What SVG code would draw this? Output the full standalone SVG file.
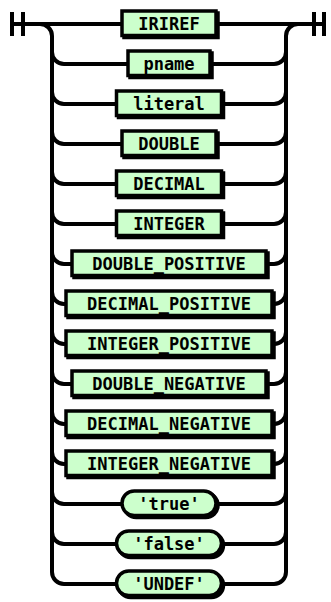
<svg xmlns="http://www.w3.org/2000/svg" width="331" height="602" viewBox="0 0 331 602">
<style>
.line{fill:none;stroke:#000;stroke-width:4}
.sh{fill:#000;stroke:#000;stroke-width:3.5}
.box{fill:#ccffcc;stroke:#000;stroke-width:3.5}
text{font-family:"DejaVu Sans Mono","Liberation Mono",monospace;font-weight:bold;font-size:17px;text-anchor:middle;fill:#000}
</style>
<rect width="331" height="602" fill="#fff"/>
<g id="connectors" class="line">
<path d="M12 12V36M23 12V36M314 12V36M324 12V36"/>
<path d="M12 24H122M216 24H324"/>
<path d="M40 24A12 12 0 0 1 52 36V572"/>
<path d="M286 572V36A12 12 0 0 1 298 24"/>
<path d="M52 52A12 12 0 0 0 64 64H128M210 64H274A12 12 0 0 0 286 52"/>
<path d="M52 92A12 12 0 0 0 64 104H116.5M221.5 104H274A12 12 0 0 0 286 92"/>
<path d="M52 132A12 12 0 0 0 64 144H122M216 144H274A12 12 0 0 0 286 132"/>
<path d="M52 172A12 12 0 0 0 64 184H116.5M221.5 184H274A12 12 0 0 0 286 172"/>
<path d="M52 212A12 12 0 0 0 64 224H116.5M221.5 224H274A12 12 0 0 0 286 212"/>
<path d="M52 252A12 12 0 0 0 64 264H72M266 264H274A12 12 0 0 0 286 252"/>
<path d="M52 292A12 12 0 0 0 64 304H66M272 304H274A12 12 0 0 0 286 292"/>
<path d="M52 332A12 12 0 0 0 64 344H66M272 344H274A12 12 0 0 0 286 332"/>
<path d="M52 372A12 12 0 0 0 64 384H72M266 384H274A12 12 0 0 0 286 372"/>
<path d="M52 412A12 12 0 0 0 64 424H66M272 424H274A12 12 0 0 0 286 412"/>
<path d="M52 452A12 12 0 0 0 64 464H66M272 464H274A12 12 0 0 0 286 452"/>
<path d="M52 492A12 12 0 0 0 64 504H122M216 504H274A12 12 0 0 0 286 492"/>
<path d="M52 532A12 12 0 0 0 64 544H116.5M221.5 544H274A12 12 0 0 0 286 532"/>
<path d="M52 572A12 12 0 0 0 64 584H116.5M221.5 584H274A12 12 0 0 0 286 572"/>
</g>
<g id="n-IRIREF"><rect class="sh" x="124" y="13" width="94" height="24.5"/><rect class="box" x="122" y="11" width="94" height="24.5"/><text x="169" y="30">IRIREF</text></g>
<g id="n-pname"><rect class="sh" x="130" y="53" width="82" height="24.5"/><rect class="box" x="128" y="51" width="82" height="24.5"/><text x="169" y="70">pname</text></g>
<g id="n-literal"><rect class="sh" x="118.5" y="93" width="105" height="24.5"/><rect class="box" x="116.5" y="91" width="105" height="24.5"/><text x="169" y="110">literal</text></g>
<g id="n-DOUBLE"><rect class="sh" x="124" y="133" width="94" height="24.5"/><rect class="box" x="122" y="131" width="94" height="24.5"/><text x="169" y="150">DOUBLE</text></g>
<g id="n-DECIMAL"><rect class="sh" x="118.5" y="173" width="105" height="24.5"/><rect class="box" x="116.5" y="171" width="105" height="24.5"/><text x="169" y="190">DECIMAL</text></g>
<g id="n-INTEGER"><rect class="sh" x="118.5" y="213" width="105" height="24.5"/><rect class="box" x="116.5" y="211" width="105" height="24.5"/><text x="169" y="230">INTEGER</text></g>
<g id="n-DOUBLE_POSITIVE"><rect class="sh" x="74" y="253" width="194" height="24.5"/><rect class="box" x="72" y="251" width="194" height="24.5"/><text x="169" y="270">DOUBLE_POSITIVE</text></g>
<g id="n-DECIMAL_POSITIVE"><rect class="sh" x="68" y="293" width="206" height="24.5"/><rect class="box" x="66" y="291" width="206" height="24.5"/><text x="169" y="310">DECIMAL_POSITIVE</text></g>
<g id="n-INTEGER_POSITIVE"><rect class="sh" x="68" y="333" width="206" height="24.5"/><rect class="box" x="66" y="331" width="206" height="24.5"/><text x="169" y="350">INTEGER_POSITIVE</text></g>
<g id="n-DOUBLE_NEGATIVE"><rect class="sh" x="74" y="373" width="194" height="24.5"/><rect class="box" x="72" y="371" width="194" height="24.5"/><text x="169" y="390">DOUBLE_NEGATIVE</text></g>
<g id="n-DECIMAL_NEGATIVE"><rect class="sh" x="68" y="413" width="206" height="24.5"/><rect class="box" x="66" y="411" width="206" height="24.5"/><text x="169" y="430">DECIMAL_NEGATIVE</text></g>
<g id="n-INTEGER_NEGATIVE"><rect class="sh" x="68" y="453" width="206" height="24.5"/><rect class="box" x="66" y="451" width="206" height="24.5"/><text x="169" y="470">INTEGER_NEGATIVE</text></g>
<g id="t-true"><rect class="sh" x="124" y="493" width="94" height="24.5" rx="12.25"/><rect class="box" x="122" y="491" width="94" height="24.5" rx="12.25"/><text x="169" y="510">'true'</text></g>
<g id="t-false"><rect class="sh" x="118.5" y="533" width="105" height="24.5" rx="12.25"/><rect class="box" x="116.5" y="531" width="105" height="24.5" rx="12.25"/><text x="169" y="550">'false'</text></g>
<g id="t-UNDEF"><rect class="sh" x="118.5" y="573" width="105" height="24.5" rx="12.25"/><rect class="box" x="116.5" y="571" width="105" height="24.5" rx="12.25"/><text x="169" y="590">'UNDEF'</text></g>
</svg>
